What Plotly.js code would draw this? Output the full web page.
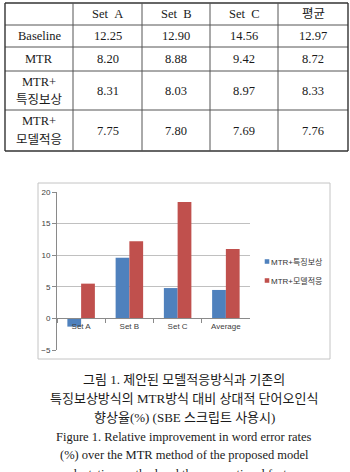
<!DOCTYPE html>
<html>
<head>
<meta charset="utf-8">
<script src="https://cdn.plot.ly/plotly-3.0.1.min.js"></script>
<style>
  html, body { margin: 0; padding: 0; background: #ffffff; }
  #fig { width: 350px; height: 472px; }
</style>
</head>
<body>
<div id="fig"></div>
<script>
// ---- data: word error rates (%) ----
const tableHeader = ['', 'Set\u00a0\u00a0A', 'Set\u00a0\u00a0B', 'Set\u00a0\u00a0C', '평균'];
const rowLabels = [['Baseline'], ['MTR'], ['MTR+', '특징보상'], ['MTR+', '모델적응']];
const baselineWER = ['12.25', '12.90', '14.56', '12.97'];
const mtrWER = ['8.20', '8.88', '9.42', '8.72'];
const mtrFeatureWER = ['8.31', '8.03', '8.97', '8.33'];
const mtrAdaptWER = ['7.75', '7.80', '7.69', '7.76'];

// ---- data: relative improvement over MTR (%) ----
const categories = ['Set A', 'Set B', 'Set C', 'Average'];
const seriesNames = ['MTR+특징보상', 'MTR+모델적응'];
const featureCompImprovement = [-1.3, 9.6, 4.8, 4.5];
const modelAdaptImprovement = [5.5, 12.2, 18.4, 11.0];

// ---- caption ----
const captionLines = [
  '그림 1. 제안된 모델적응방식과 기존의',
  '특징보상방식의 MTR방식 대비 상대적 단어오인식',
  '향상율(%) (SBE 스크립트 사용시)',
  'Figure 1. Relative improvement in word error rates',
  '(%) over the MTR method of the proposed model',
  'adaptation method and the conventional feature'
];

// ---- page geometry (pixels) ----
const W = 350, H = 472;
const px = x => x / W;
const py = y => 1 - y / H;

const tableCols = [5, 73, 142, 210, 278, 348];
const tableRows = [3, 25, 47, 71, 110, 151];
const lineGap = 18;

const serif = 'Liberation Serif, Noto Sans CJK KR, serif';
const sans = 'Liberation Sans, Noto Sans CJK KR, sans-serif';

const shapes = [];
const annotations = [];

// table grid
tableRows.forEach((y, i) => {
  const outer = (i === 0 || i === tableRows.length - 1);
  shapes.push({type: 'line', xref: 'paper', yref: 'paper',
    x0: px(tableCols[0]), x1: px(tableCols[tableCols.length - 1]), y0: py(y), y1: py(y),
    line: {color: outer ? '#333333' : '#555555', width: outer ? 1.4 : 1}});
});
tableCols.forEach((x, i) => {
  const outer = (i === 0 || i === tableCols.length - 1);
  shapes.push({type: 'line', xref: 'paper', yref: 'paper',
    x0: px(x), x1: px(x), y0: py(tableRows[0]), y1: py(tableRows[tableRows.length - 1]),
    line: {color: outer ? '#333333' : '#555555', width: outer ? 1.4 : 1}});
});

function cellText(text, col, row, dy) {
  const cx = (tableCols[col] + tableCols[col + 1]) / 2;
  const cy = (tableRows[row] + tableRows[row + 1]) / 2 + (dy || 0);
  annotations.push({xref: 'paper', yref: 'paper', x: px(cx), y: py(cy),
    xanchor: 'center', yanchor: 'middle', showarrow: false, text: text,
    font: {family: serif, size: 12.5, color: '#1a1a1a'}});
}

tableHeader.forEach((t, c) => { if (t) cellText(t, c, 0); });
const bodyRows = [baselineWER, mtrWER, mtrFeatureWER, mtrAdaptWER];
bodyRows.forEach((vals, r) => {
  const lines = rowLabels[r];
  lines.forEach((ln, k) => cellText(ln, 0, r + 1, (k - (lines.length - 1) / 2) * lineGap));
  vals.forEach((v, c) => cellText(v, c + 1, r + 1));
});

// chart frame
shapes.push({type: 'rect', xref: 'paper', yref: 'paper',
  x0: px(38), x1: px(330), y0: py(359), y1: py(183),
  line: {color: '#c4c4c4', width: 1}, fillcolor: 'rgba(0,0,0,0)', layer: 'below'});

// caption lines
const captionY = [379, 398, 417, 437, 455, 474];
captionLines.forEach((t, i) => {
  annotations.push({xref: 'paper', yref: 'paper', x: px(184), y: py(captionY[i]),
    xanchor: 'center', yanchor: 'middle', showarrow: false, text: t,
    font: {family: serif, size: i < 3 ? 13 : 12.5, color: '#1a1a1a'}});
});

// bar chart axes
const yRange = [-5, 20];
const yDomain = [py(350), py(192)];
const zeroPos = yDomain[0] + (0 - yRange[0]) / (yRange[1] - yRange[0]) * (yDomain[1] - yDomain[0]);

const traces = [
  {type: 'bar', name: seriesNames[0], x: categories, y: featureCompImprovement,
   marker: {color: '#4F81BD'}},
  {type: 'bar', name: seriesNames[1], x: categories, y: modelAdaptImprovement,
   marker: {color: '#C0504D'}}
];

const layout = {
  width: W, height: H, autosize: false,
  margin: {l: 0, r: 0, t: 0, b: 0, pad: 0},
  paper_bgcolor: '#ffffff', plot_bgcolor: 'rgba(0,0,0,0)',
  barmode: 'group', bargap: 0.43, bargroupgap: 0,
  xaxis: {domain: [px(57), px(250)], anchor: 'free', position: zeroPos,
    showline: true, linecolor: '#8a8a8a', linewidth: 1,
    ticks: 'outside', tickson: 'boundaries', ticklen: 4, tickcolor: '#8a8a8a',
    showgrid: false, tickfont: {family: sans, size: 8, color: '#404040'}},
  yaxis: {domain: yDomain, range: yRange, dtick: 5, tick0: 0,
    showline: true, linecolor: '#8a8a8a', linewidth: 1,
    ticks: 'outside', ticklen: 4, tickcolor: '#8a8a8a',
    showgrid: true, gridcolor: '#c0c0c0', gridwidth: 1, zeroline: false,
    tickfont: {family: sans, size: 8, color: '#404040'}},
  showlegend: true,
  legend: {x: px(231), y: py(271), xanchor: 'left', yanchor: 'middle',
    font: {family: sans, size: 8, color: '#333333'}, bgcolor: 'rgba(0,0,0,0)',
    itemwidth: 30, tracegroupgap: 0},
  shapes: shapes,
  annotations: annotations
};

Plotly.newPlot('fig', traces, layout, {staticPlot: true, displayModeBar: false}).then(() => {
  // small square swatches placed just before each legend label
  document.querySelectorAll('.legend .traces').forEach(item => {
    const p = item.querySelector('.legendpoints path');
    const txt = item.querySelector('text.legendtext');
    if (!p || !txt) return;
    const pr = p.getBoundingClientRect();
    const tr = txt.getBoundingClientRect();
    const dx = (tr.left - 4) - (pr.left + pr.width / 2);
    const t = p.getAttribute('transform') || '';
    p.setAttribute('transform', t + ' translate(' + dx.toFixed(1) + ',0) scale(0.38)');
  });
});
</script>
</body>
</html>
